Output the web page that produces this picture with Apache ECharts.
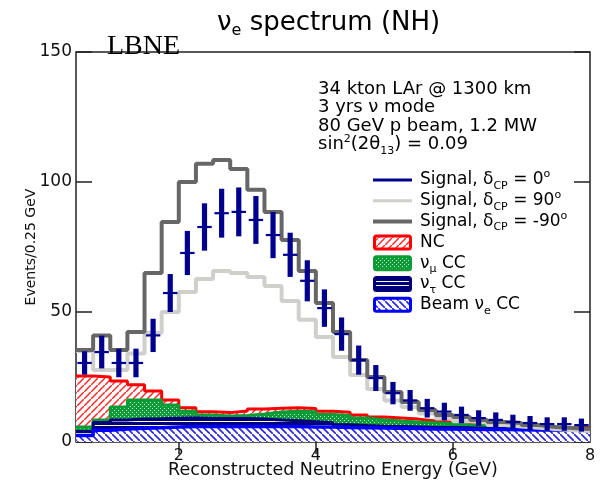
<!DOCTYPE html>
<html><head><meta charset="utf-8">
<script src="https://cdn.jsdelivr.net/npm/echarts@6/dist/echarts.min.js"></script>
<style>html,body{margin:0;padding:0;background:#fff}#c{width:601px;height:480px}</style>
</head><body><div id="c"></div>
<script>
// ---- data (bins of 0.25 GeV, from 0.5 to 8 GeV) ----
const binLowEdges = [0.5,0.75,1,1.25,1.5,1.75,2,2.25,2.5,2.75,3,3.25,3.5,3.75,4,4.25,4.5,4.75,5,5.25,5.5,5.75,6,6.25,6.5,6.75,7,7.25,7.5,7.75];
const binHighEdge = 8;
const signalCPm90 = [35.4,41,35.4,42.3,65,84.6,100,107,108.5,105,97,88.5,77.7,65.8,53.5,42.3,31.5,25,19.2,15.4,12.3,10.4,9.6,8.5,7.7,7.3,6.5,5.8,5.4,5.0];
const signalCP90 = [35,27.7,27.7,34,42,50,57.7,62.7,65.8,65,63.5,60,54.2,47,40.4,32.7,25.8,20.4,16,13.5,11,9,8,7.5,6.5,6,5.5,5,4.5,4.2];
const signalCP0 = [30.4,34.6,30.4,30.4,41,57.3,72.7,82.7,88,88.5,85.4,79.6,72,62,51.5,41.5,31.5,24.6,18.8,16,13,11.7,10.4,9.2,8.5,7.7,7.3,6.9,6.9,6.5];
const signalCP0Err = [4.5,6.3,5.5,5.5,6.4,7.3,8.5,9.1,9.4,9.4,9.2,8.9,8.5,7.9,7.2,6.4,5.6,5.0,4.3,4.0,3.6,3.4,3.2,3.0,2.9,2.8,2.7,2.6,2.6,2.5];
const bkgBeamNueCC = [2.5,4.5,5.0,5.3,5.5,5.8,6.0,6.0,6.0,6.0,6.0,6.0,6.0,5.8,5.8,5.6,5.5,5.4,5.3,5.2,5.0,5.0,4.9,4.8,4.8,4.7,4.6,4.6,4.5,4.5];
const bkgNutauCC = [1.5,3.0,3.5,3.5,3.4,3.3,3.2,3.0,3.0,3.0,2.8,2.5,2.2,2.0,1.6,1.0,0.8,0.7,0.7,0.6,0.6,0.6,0.6,0.5,0.5,0.5,0.5,0.5,0.5,0.5];
const bkgNumuCC = [1.8,1.0,5.0,7.4,7.3,5.1,2.6,1.4,1.0,1.2,2.0,3.0,3.6,3.8,3.2,3.6,2.9,2.5,2.1,1.9,1.8,1.4,1.0,1.0,0.8,0.6,0.5,0.3,0.3,0.3];
const bkgNC = [19.6,16.5,10.0,5.8,3.4,2.0,1.4,1.2,1.3,1.7,1.9,1.5,1.4,1.3,1.2,1.2,1.2,1.0,1.1,1.1,0.7,0.7,0.8,0.6,0.4,0.3,0.3,0.3,0.2,0.3];
const xTickValues = [2,4,6];
const xLabelValues = [2,4,6,8];
const FONT = '"DejaVu Sans", Arial, sans-serif';

function steps(vals){
  const d = binLowEdges.map((e,i)=>[e, vals[i]]);
  d.push([binHighEdge, vals[vals.length-1]]);
  return d;
}
function pat(w,h,draw){
  const c=document.createElement('canvas'); c.width=w; c.height=h;
  const g=c.getContext('2d'); draw(g,w,h); return c;
}
const ncPat = pat(7,7,(g,w,h)=>{g.fillStyle='#fff';g.fillRect(0,0,w,h);g.strokeStyle='#ff2a2a';g.lineWidth=1.5;g.beginPath();
  g.moveTo(-1,h+1);g.lineTo(w+1,-1);g.moveTo(-3,2);g.lineTo(2,-3);g.moveTo(w-2,h+3);g.lineTo(w+3,h-2);g.stroke();});
const nuePat = pat(7,7,(g,w,h)=>{g.fillStyle='#fff';g.fillRect(0,0,w,h);g.strokeStyle='#2b2bdc';g.lineWidth=1.7;g.beginPath();
  g.moveTo(-1,-1);g.lineTo(w+1,h+1);g.moveTo(-3,h-2);g.lineTo(2,h+3);g.moveTo(w-2,-3);g.lineTo(w+3,2);g.stroke();});
const numuPat = pat(4,4,(g,w,h)=>{g.fillStyle='#0f9b3a';g.fillRect(0,0,w,h);g.fillStyle='#bfe8c8';g.fillRect(0,0,1,1);g.fillRect(2,2,1,1);});
const tauPat = pat(4,4,(g,w,h)=>{g.fillStyle='#00007a';g.fillRect(0,0,w,h);g.fillStyle='#ffffff';g.fillRect(0,1,w,1);});

// stacked background: bottom to top
const bkgDefs = [
  {name:'Beam νe CC', vals:bkgBeamNueCC, line:'#0000ff', w:3.5, fill:nuePat},
  {name:'ντ CC', vals:bkgNutauCC, line:'#00007a', w:3, fill:tauPat},
  {name:'νμ CC', vals:bkgNumuCC, line:'#0b9c36', w:3, fill:numuPat},
  {name:'NC', vals:bkgNC, line:'#ff0000', w:3, fill:ncPat}
];
let running = binLowEdges.map(()=>0);
const cumulative = bkgDefs.map(s=>{ running = running.map((v,i)=>v + s.vals[i]); return running.slice(); });
const series = [];
// draw the tallest (top of stack) first, lower cumulative layers over it
for (let k = bkgDefs.length-1; k >= 0; k--) {
  const s = bkgDefs[k];
  series.push({type:'line', name:s.name, step:'end', symbol:'none', data:steps(cumulative[k]),
    lineStyle:{color:s.line, width:s.w}, areaStyle:{color:{image:s.fill, repeat:'repeat'}, opacity:1},
    z:2, silent:true});
}
series.push({type:'line', name:'Signal, dCP = 90', step:'end', symbol:'none', data:steps(signalCP90),
  lineStyle:{color:'#cfcfcc', width:4}, z:3, silent:true});
series.push({type:'line', name:'Signal, dCP = -90', step:'end', symbol:'none', data:steps(signalCPm90),
  lineStyle:{color:'#676767', width:4}, z:4, silent:true});
series.push({type:'custom', name:'Signal, dCP = 0', z:5, silent:true,
  data: binLowEdges.map((e,i)=>[(e + (i+1<binLowEdges.length?binLowEdges[i+1]:binHighEdge))/2, signalCP0[i], signalCP0Err[i]]),
  encode:{x:0, y:1},
  renderItem(params, api){
    const x=api.value(0), y=api.value(1), e=api.value(2);
    const p=api.coord([x,y]), t=api.coord([x,y+e]), b=api.coord([x,y-e]);
    const half = api.size([0.25,0])[0]*0.42;
    return {type:'group', children:[
      {type:'rect', shape:{x:p[0]-2.6, y:t[1], width:5.2, height:b[1]-t[1]}, style:{fill:'#00008f'}},
      {type:'line', shape:{x1:p[0]-half, y1:p[1], x2:p[0]+half, y2:p[1]}, style:{stroke:'#00008f', lineWidth:2.2}}
    ]};
  }
});

const tick = {inside:true, lineStyle:{color:'#222', width:1.5}};
const rich = {
  t:{fontSize:17, fontFamily:FONT, lineHeight:21, fill:'#000'},
  s:{fontSize:11, fontFamily:FONT, lineHeight:21, padding:[12,0,0,0]},
  p:{fontSize:11, fontFamily:FONT, lineHeight:21, padding:[0,0,11,0]}
};
const legendRows = [
  {kind:'line', color:'#00008f', w:3, text:'{t|Signal, δ}{s|CP}{t| = 0}{p|o}'},
  {kind:'line', color:'#cfcfcc', w:3, text:'{t|Signal, δ}{s|CP}{t| = 90}{p|o}'},
  {kind:'line', color:'#676767', w:4, text:'{t|Signal, δ}{s|CP}{t| = -90}{p|o}'},
  {kind:'box', color:'#ff0000', fill:ncPat, text:'{t|NC}'},
  {kind:'box', color:'#0b9c36', fill:numuPat, text:'{t|ν}{s|μ}{t| CC}'},
  {kind:'box', color:'#00007a', fill:tauPat, text:'{t|ν}{s|τ}{t| CC}'},
  {kind:'box', color:'#0000ff', fill:nuePat, text:'{t|Beam ν}{s|e}{t| CC}'}
];
const graphics = [];
legendRows.forEach((r,i)=>{
  const yc = 180 + i*20.8;
  if(r.kind==='line') graphics.push({type:'line', shape:{x1:373,y1:yc,x2:412,y2:yc}, style:{stroke:r.color, lineWidth:r.w}, z:10});
  else graphics.push({type:'rect', shape:{x:374.5,y:yc-6.5,width:36,height:13,r:2}, style:{fill:{image:r.fill,repeat:'repeat'}, stroke:r.color, lineWidth:3}, z:10});
  graphics.push({type:'text', x:420, y:yc, z:10, style:{text:r.text, rich:rich, verticalAlign:'middle', fill:'#000'}});
});
graphics.push({type:'text', x:107, y:33, z:10, style:{text:'LBNE', font:'28px "Liberation Serif", "Times New Roman", serif', fill:'#000'}});
graphics.push({type:'text', x:318, y:80, z:10, style:{
  text:'{a|34 kton LAr @ 1300 km}\n{a|3 yrs ν mode}\n{a|80 GeV p beam, 1.2 MW}\n{a|sin}{p|2}{a|(2θ}{s|13}{a|) = 0.09}',
  rich:{a:{fontSize:18, fontFamily:FONT, lineHeight:18.5}, s:{fontSize:11, fontFamily:FONT, lineHeight:18.5, padding:[12,0,0,0]}, p:{fontSize:11, fontFamily:FONT, lineHeight:18.5, padding:[0,0,11,0]}},
  fill:'#000'}});

const option = {
  animation:false,
  backgroundColor:'#fff',
  title:{text:'{a|ν}{b|e}{a| spectrum (NH)}', left:212, top:2,
    textStyle:{fontWeight:'normal', rich:{a:{fontSize:26, fontWeight:'normal', fontFamily:FONT, lineHeight:32, color:'#000'}, b:{fontSize:16, fontWeight:'normal', fontFamily:FONT, lineHeight:32, color:'#000', padding:[16,0,0,0]}}}},
  grid:{left:76, right:11, top:52, bottom:38, show:true, borderColor:'#222', borderWidth:1.5, backgroundColor:'transparent', outerBoundsMode:'none', containLabel:false},
  xAxis:[
    {type:'value', min:0.5, max:8, position:'bottom', axisLine:{show:false}, splitLine:{show:false},
     axisTick:Object.assign({length:12, customValues:xTickValues}, tick),
     axisLabel:{customValues:xLabelValues, fontSize:16, fontFamily:FONT, color:'#111', margin:6},
     name:'Reconstructed Neutrino Energy (GeV)', nameLocation:'middle', nameGap:19, nameMoveOverlap:false,
     nameTextStyle:{fontSize:17.5, fontFamily:FONT, color:'#111'}},
    {type:'value', min:0.5, max:8, position:'top', axisLine:{show:false}, splitLine:{show:false},
     axisTick:Object.assign({length:12, customValues:xTickValues}, tick), axisLabel:{show:false}}
  ],
  yAxis:[
    {type:'value', min:0, max:150, interval:50, position:'left', axisLine:{show:false}, splitLine:{show:false},
     axisTick:Object.assign({length:16}, tick),
     axisLabel:{fontSize:17, fontFamily:FONT, color:'#111', margin:4},
     name:'Events/0.25 GeV', nameLocation:'middle', nameGap:38, nameMoveOverlap:false,
     nameTextStyle:{fontSize:14, fontFamily:FONT, color:'#111'}},
    {type:'value', min:0, max:150, interval:50, position:'right', axisLine:{show:false}, splitLine:{show:false},
     axisTick:Object.assign({length:16}, tick), axisLabel:{show:false}}
  ],
  series: series,
  graphic: graphics
};
const chart = echarts.init(document.getElementById('c'), null, {renderer:'canvas'});
chart.setOption(option);
</script></body></html>
